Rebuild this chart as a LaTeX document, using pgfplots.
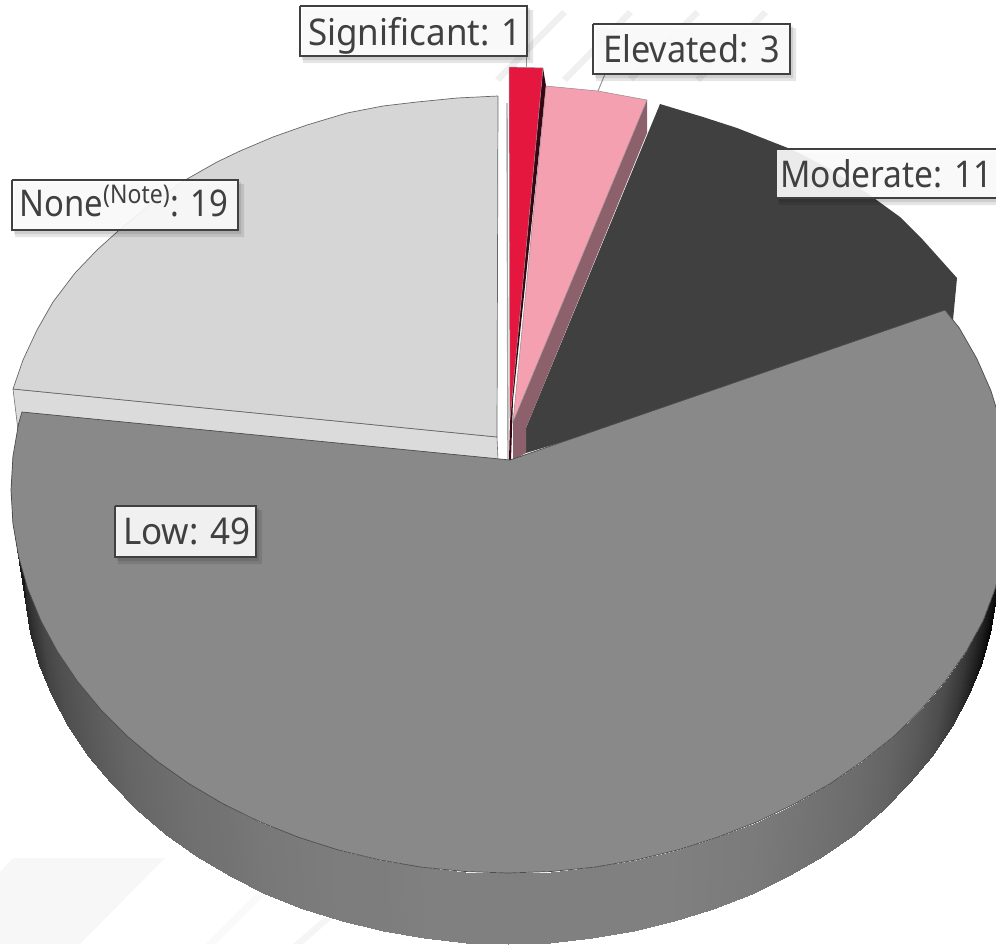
\documentclass[border=0pt]{standalone}
\usepackage{pgfplots}
\pgfplotsset{compat=1.18}
\usepackage{fontspec}
\setmainfont[FakeStretch=0.95]{Noto Sans}
\definecolor{txt}{HTML}{404040}
\definecolor{lowc}{HTML}{898989}
\definecolor{nonec}{HTML}{D6D6D6}
\definecolor{redc}{HTML}{E5173F}
\definecolor{pinkc}{HTML}{F4A0B0}
\definecolor{pinkw}{HTML}{8C616B}
\definecolor{redw}{HTML}{3A0512}
\definecolor{modc}{HTML}{404040}
\tikzset{
  lab/.style={font=\fontsize{18.4}{20}\selectfont, text=txt, inner sep=0pt, anchor=base},
  box/.style={draw=txt, line width=1.4pt, fill=white, fill opacity=0.9, draw opacity=1},
  shd/.style={draw=none, fill=black, fill opacity=0.10},
}
\begin{document}
\begin{tikzpicture}[x=1pt,y=1pt]
\path[use as bounding box] (0pt,0pt) rectangle (498pt,472pt);
\begin{axis}[
  at={(0pt,0pt)}, anchor=south west,
  scale only axis, width=498pt, height=472pt,
  xmin=0, xmax=996, ymin=0, ymax=944, y dir=reverse,
  hide axis, clip=true,
  colormap/blackwhite, point meta min=0, point meta max=1,
]
% watermark
\addplot[draw=none, fill=black!6] coordinates {(495,78)(562,10)(567,14)(500,82)(495,78)};
\addplot[draw=none, fill=black!6] coordinates {(562,78)(628,10)(633,14)(567,82)(562,78)};
\addplot[draw=none, fill=black!6] coordinates {(628,77)(695,10)(700,14)(633,81)(628,77)};
\addplot[draw=none, fill=black!6] coordinates {(695,78)(763,10)(768,14)(700,82)(695,78)};
\addplot[draw=none, fill=black!3] coordinates {(13,858)(165,858)(80,944)(0,944)(0,872)(13,858)};
\addplot[draw=none, fill=black!2] coordinates {(257,892)(268,892)(216,944)(205,944)(257,892)};
\addplot[draw=none, fill=black!4] coordinates {(323,918)(333,918)(303,944)(293,944)(323,918)};
% side wall of the large slice
\addplot[surf, shader=interp, mesh/rows=2, point meta=explicit] table[meta=c] {
x y c
1008 456.6 .02
1011 490 .02
1009 523.4 .02
1003 556.5 .03
995 589.1 .06
983 621 .13
966 651.9 .22
945 681.5 .30
921 709.7 .35
894 736.2 .39
863 760.8 .42
830.5 783.4 .44
795 803.7 .46
757.5 821.7 .48
718 837.1 .49
678 849.9 .50
636.6 859.9 .50
594.3 867.2 .50
551.3 871.5 .50
508 873 .50
464.7 871.5 .50
421.7 867.2 .50
379.4 859.9 .49
338 849.9 .49
298 837.1 .48
259.5 821.7 .47
222.9 803.7 .45
188.5 783.4 .44
156.6 760.8 .42
127.3 736.2 .40
100.9 709.7 .37
77.6 681.5 .34
57.6 651.9 .31
41 621 .27
27.9 589.1 .20
18.6 556.5 .15
12.9 523.4 .10
11 490 .08
12.9 456.6 .08
995 534 .02
997 567 .02
995.2 599.9 .02
989.6 632.5 .03
980.5 664.6 .06
967.8 696 .13
951.6 726.3 .22
932 755.5 .30
909.3 783.2 .35
883.5 809.3 .39
854.9 833.6 .42
822.8 855.8 .44
788.2 875.8 .46
751.5 893.5 .48
713 908.7 .49
673.9 921.3 .50
633.5 931.2 .50
592.2 938.3 .50
550.3 942.6 .50
508 944 .50
465.7 942.6 .50
423.8 938.3 .50
382.5 931.2 .49
342.1 921.3 .49
303 908.7 .48
265.5 893.5 .47
229.8 875.8 .45
196.2 855.8 .44
165.1 833.6 .42
136.5 809.3 .40
110.7 783.2 .37
88 755.5 .34
68.4 726.3 .31
52.2 695.9 .27
39.5 664.6 .20
30.4 632.5 .15
24.8 599.9 .10
23 567 .08
24.8 534 .08
};
% None: wall and top
\addplot[fill=black!14, draw=black!55, line width=0.3pt] coordinates {(13,389)(497,437)(498,460)(18,430)(13,389)};
\addplot[fill=nonec, draw=black!60, line width=0.35pt] coordinates {(498,96)(457,98)(417,102)(383,106)(347,113)(307,125)(273,137)(240,151)(217,162)(187,179)(152,203)(117,232)(97,250)(75,273)(53,302)(37,330)(23,360)(13,389)(497,437)(498,96)};
\addplot[draw=black!35, line width=0.7pt] coordinates {(507,103)(508,460)};
% Moderate
\addplot[fill=modc, draw=none] coordinates {(660,104)(703,117)(737,128)(770,141)(793,150)(830,169)(867,193)(900,217)(923,240)(957,278)(953,320)(900,340)(526,453)(526,428)(660,104)};
% Significant
\addplot[fill=redw, draw=none] coordinates {(543,68)(546,86)(513,400)(511,460)(509,460)(510,420)(543,68)};
\addplot[fill=redc, draw=black!45, line width=0.25pt] coordinates {(509,67)(543,68)(510,420)(509,67)};
% Elevated
\addplot[fill=pinkw, draw=none] coordinates {(647,100)(647,133)(526,428)(526,453)(513,460)(513,422)(647,100)};
\addplot[fill=pinkc, draw=black!45, line width=0.25pt] coordinates {(546,86)(598,91)(647,100)(513,422)(546,86)};
% Low
\addplot[fill=lowc, draw=black!70, line width=0.35pt] coordinates {
(510,460)(945,310)(959.4,328.1)(977,359)(991,390.9)(1001,423.5)(1008,456.6)(1011,490)(1009,523.4)(1003,556.5)(995,589.1)(983,621)(966,651.9)(945,681.5)(921,709.7)(894,736.2)(863,760.8)(830.5,783.4)(795,803.7)(757.5,821.7)(718,837.1)(678,849.9)(636.6,859.9)(594.3,867.2)(551.3,871.5)(508,873)(464.7,871.5)(421.7,867.2)(379.4,859.9)(338,849.9)(298,837.1)(259.5,821.7)(222.9,803.7)(188.5,783.4)(156.6,760.8)(127.3,736.2)(100.9,709.7)(77.6,681.5)(57.6,651.9)(41,621)(27.9,589.1)(18.6,556.5)(12.9,523.4)(11,490)(12.9,456.6)(18.6,423.5)(22,412)(510,460)};
% leader lines
\addplot[draw=black!40, line width=0.5pt] coordinates {(526,56)(526,67)};
\addplot[draw=black!40, line width=0.5pt] coordinates {(605,74)(598,91)};
% label shadows
\addplot[shd] coordinates {(303,10)(533,10)(533,63)(303,63)(303,10)};
\addplot[shd] coordinates {(302,8)(530,8)(530,60)(302,60)(302,8)};
\addplot[shd] coordinates {(596,28)(796,28)(796,81)(596,81)(596,28)};
\addplot[shd] coordinates {(595,26)(793,26)(793,78)(595,78)(595,26)};
\addplot[shd] coordinates {(15,184)(244,184)(244,237)(15,237)(15,184)};
\addplot[shd] coordinates {(14,182)(241,182)(241,234)(14,234)(14,182)};
\addplot[shd] coordinates {(118,510)(262,510)(262,564)(118,564)(118,510)};
\addplot[shd] coordinates {(117,508)(259,508)(259,561)(117,561)(117,508)};
\addplot[shd] coordinates {(779,153)(1005,153)(1005,205)(779,205)(779,153)};
\addplot[shd] coordinates {(778,151)(1005,151)(1005,202)(778,202)(778,151)};
% label boxes
\addplot[box] coordinates {(300,6)(527,6)(527,56)(300,56)(300,6)};
\addplot[box] coordinates {(593,24)(790,24)(790,74)(593,74)(593,24)};
\addplot[box] coordinates {(12,180)(238,180)(238,230)(12,230)(12,180)};
\addplot[box] coordinates {(115,506)(256,506)(256,557)(115,557)(115,506)};
\addplot[box] coordinates {(776,149)(1005,149)(1005,198)(776,198)(776,149)};
% label text
\node[lab] at (axis cs:415,45) {Significant: 1};
\node[lab] at (axis cs:691.5,62) {\scalebox{0.98}[1]{Elevated: 3}};
\node[lab] at (axis cs:124,216) {\scalebox{0.94}[1]{None\textsuperscript{(Note)}: 19}};
\node[lab] at (axis cs:187,544) {Low: 49};
\node[lab] at (axis cs:886.5,187) {\scalebox{0.96}[1]{Moderate: 11}};
\end{axis}
\end{tikzpicture}
\end{document}
